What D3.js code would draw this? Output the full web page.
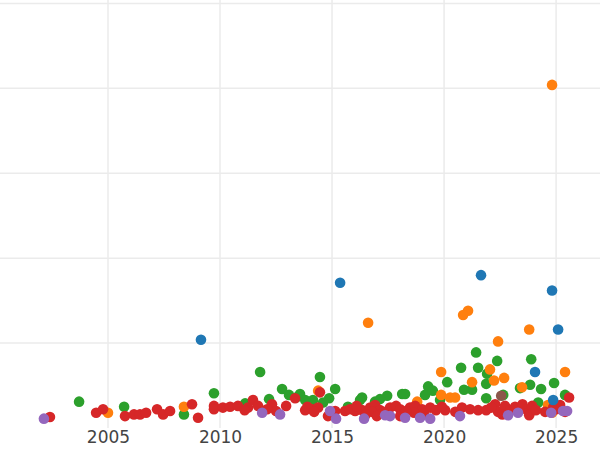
<!DOCTYPE html>
<html>
<head>
<meta charset="utf-8">
<script src="https://cdn.jsdelivr.net/npm/d3@7"></script>
<style>
  body { margin: 0; background: #fff; }
  .tick text { font-family: "DejaVu Sans", sans-serif; }
</style>
</head>
<body>
<div id="chart"></div>
<script>
// series values: [year, value]
const blue = [[2009.15,1.04],[2015.36,1.71],[2021.65,1.8],[2024.82,1.62],[2025.09,1.16],[2024.06,0.66],[2024.87,0.33]];
const orange = [[2024.82,4.04],[2021.07,1.38],[2020.85,1.33],[2016.61,1.24],[2023.8,1.16],[2022.41,1.02],
  [2019.87,0.66],[2025.4,0.66],[2022.05,0.69],[2021.25,0.54],[2022.23,0.56],[2022.68,0.59],[2005.0,0.18],
  [2008.39,0.25],[2014.38,0.44],[2019.87,0.39],[2020.27,0.36],[2020.49,0.36],[2018.8,0.31],[2023.48,0.48],
  [2024.82,0.18],[2024.64,0.27]];
const green = [[2003.71,0.31],[2005.72,0.25],[2008.39,0.16],[2009.73,0.41],[2011.79,0.66],[2011.12,0.29],
  [2012.19,0.34],[2012.77,0.46],[2013.08,0.39],[2013.39,0.36],[2013.57,0.4],[2014.46,0.6],[2015.14,0.46],
  [2014.87,0.35],[2014.15,0.33],[2013.8,0.33],[2016.34,0.36],[2016.92,0.31],[2017.46,0.38],[2018.13,0.4],
  [2019.29,0.49],[2020.14,0.54],[2020.76,0.71],[2021.43,0.89],[2021.52,0.71],[2021.92,0.64],[2022.37,0.79],
  [2021.88,0.52],[2021.25,0.45],[2020.89,0.45],[2023.89,0.81],[2023.84,0.51],[2024.33,0.46],[2024.91,0.53],
  [2025.4,0.39],[2023.39,0.47],[2022.64,0.39],[2021.88,0.35],[2019.82,0.33],[2019.15,0.39],[2015.71,0.25],
  [2016.03,0.21],[2016.25,0.33],[2018.26,0.4],[2017.14,0.34],[2014.6,0.3],[2019.5,0.44],[2024.2,0.3]];
const purple = [[2002.14,0.11],[2011.88,0.18],[2012.68,0.16],[2015.18,0.11],[2014.91,0.2],[2016.43,0.11],
  [2017.37,0.15],[2018.26,0.12],[2018.93,0.12],[2020.71,0.14],[2022.86,0.15],[2023.3,0.18],[2024.78,0.18],
  [2025.31,0.2],[2025.49,0.2],[2017.59,0.14],[2019.38,0.11]];
const brown = [[2022.55,0.38]];
const red = [[2002.41,0.13],[2004.47,0.18],[2004.78,0.22],[2005.76,0.14],[2006.16,0.16],[2006.43,0.16],
  [2006.7,0.18],[2007.19,0.22],[2007.46,0.16],[2007.77,0.2],[2008.75,0.28],[2009.02,0.12],[2009.73,0.26],
  [2009.73,0.22],[2010.13,0.24],[2010.45,0.25],[2010.8,0.26],[2011.25,0.24],[2011.47,0.33],[2011.7,0.26],
  [2012.32,0.28],[2012.5,0.2],[2012.95,0.26],[2013.35,0.35],[2013.8,0.21],[2014.11,0.22],[2014.38,0.24],
  [2014.46,0.42],[2014.82,0.14],[2015.14,0.2],[2015.58,0.2],[2016.03,0.2],[2016.34,0.21],[2016.7,0.24],
  [2016.92,0.27],[2017.14,0.21],[2017.59,0.24],[2017.86,0.26],[2018.04,0.22],[2018.48,0.24],[2018.71,0.26],
  [2019.02,0.22],[2019.38,0.24],[2019.64,0.21],[2020.05,0.21],[2020.8,0.24],[2021.16,0.22],[2021.52,0.21],
  [2021.88,0.21],[2022.28,0.28],[2022.41,0.19],[2022.72,0.26],[2022.95,0.21],[2023.17,0.25],[2023.71,0.21],
  [2023.93,0.26],[2024.51,0.19],[2024.87,0.24],[2025.18,0.27],[2025.58,0.36],[2025.4,0.19],[2023.8,0.15],
  [2018.66,0.18],[2018.04,0.14],[2016.79,0.19],[2015.8,0.22],[2011.1,0.21],[2012.1,0.22],[2013.9,0.25],
  [2014.2,0.19],[2016.5,0.16],[2017.3,0.19],[2018.3,0.2],[2019.1,0.17],[2019.9,0.25],[2020.5,0.19],
  [2022.1,0.24],[2022.6,0.16],[2023.5,0.28],[2024.1,0.21],[2025.0,0.22],[2017.0,0.14],[2016.1,0.26]];

const series = [
  {data: green, color: "#2ca02c"},
  {data: orange, color: "#ff7f0e"},
  {data: red, color: "#d62728"},
  {data: purple, color: "#9467bd"},
  {data: brown, color: "#8c564b"},
  {data: blue, color: "#1f77b4"}
];
const xTicks = [2005, 2010, 2015, 2020, 2025];
const yGrid = [1, 2, 3, 4, 5];

const width = 600, height = 450;
const plotBottom = 428;

const svg = d3.select("#chart").append("svg")
  .attr("width", width)
  .attr("height", height);

const x = d3.scaleLinear().domain([2000.18, 2026.96]).range([0, width]);
const y = d3.scaleLinear().domain([0, 5.04]).range([plotBottom, 0]);

// gridlines
svg.append("g").selectAll("line").data(yGrid).join("line")
  .attr("x1", 0).attr("x2", width)
  .attr("y1", d => y(d)).attr("y2", d => y(d))
  .attr("stroke", "#ebebeb").attr("stroke-width", 1.5);

svg.append("g").selectAll("line").data(xTicks).join("line")
  .attr("x1", d => x(d)).attr("x2", d => x(d))
  .attr("y1", 0).attr("y2", plotBottom)
  .attr("stroke", "#ebebeb").attr("stroke-width", 1.5);

// x axis labels only
const xAxis = svg.append("g")
  .attr("transform", "translate(0," + plotBottom + ")")
  .call(d3.axisBottom(x).tickValues(xTicks).tickFormat(d3.format("d")).tickSize(0).tickPadding(3));
xAxis.select(".domain").remove();
xAxis.selectAll("text").attr("font-size", 17).attr("fill", "#444");

// points
series.forEach(s => {
  svg.append("g").selectAll("circle").data(s.data).join("circle")
    .attr("cx", d => x(d[0]))
    .attr("cy", d => y(d[1]))
    .attr("r", 5.3)
    .attr("fill", s.color);
});
</script>
</body>
</html>
